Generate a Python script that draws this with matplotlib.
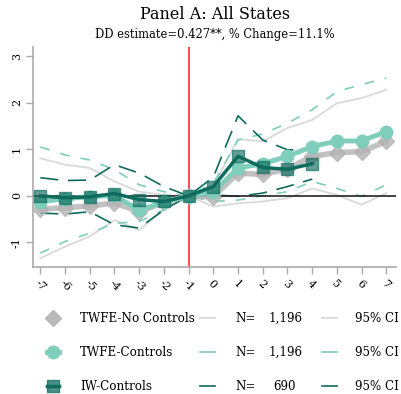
import matplotlib
matplotlib.use("Agg")
import matplotlib.pyplot as plt
import numpy as np

plt.rcParams['font.family'] = ['DejaVu Serif']
plt.rcParams['lines.scale_dashes'] = False

# ---- data ----
periods = [-7, -6, -5, -4, -3, -2, -1, 0, 1, 2, 3, 4, 5, 6, 7]
periods_iw = [-7, -6, -5, -4, -3, -2, -1, 0, 1, 2, 3, 4]

nc_est = [-0.29, -0.25, -0.22, -0.15, -0.34, -0.14, 0.0, -0.02, 0.49, 0.46, 0.58, 0.85, 0.93, 0.95, 1.17]
nc_hi = [0.81, 0.67, 0.60, 0.31, 0.09, 0.02, 0.0, 0.20, 1.22, 1.17, 1.46, 1.63, 1.99, 2.10, 2.28]
nc_lo = [-1.34, -1.09, -0.87, -0.52, -0.73, -0.30, 0.0, -0.23, -0.16, -0.12, -0.05, 0.16, 0.02, -0.19, 0.06]

c_est = [-0.13, -0.06, -0.02, 0.01, -0.31, -0.13, 0.0, 0.08, 0.60, 0.69, 0.85, 1.06, 1.18, 1.18, 1.38]
c_hi = [1.05, 0.88, 0.77, 0.56, 0.24, 0.09, 0.0, 0.27, 1.20, 1.33, 1.56, 1.85, 2.24, 2.39, 2.53]
c_lo = [-1.23, -0.98, -0.80, -0.59, -0.55, -0.30, 0.0, -0.12, -0.09, 0.0, 0.09, 0.31, 0.16, -0.01, 0.24]

iw_est = [0.0, -0.04, -0.02, 0.05, -0.08, -0.12, 0.0, 0.20, 0.85, 0.61, 0.57, 0.69]
iw_hi = [0.39, 0.33, 0.34, 0.67, 0.49, 0.20, 0.0, 0.40, 1.72, 1.20, 0.99, 0.98]
iw_lo = [-0.37, -0.39, -0.34, -0.62, -0.69, -0.30, 0.0, 0.02, -0.01, 0.06, 0.20, 0.36]

yticks = [-1, 0, 1, 2, 3]
title = "Panel A: All States"
subtitle = "DD estimate=0.427**, % Change=11.1%"
leg_labels = ["TWFE-No Controls", "TWFE-Controls", "IW-Controls"]
leg_n = ["1,196", "1,196", "690"]

GRAY = '#b3b3b3'
GRAYCI = '#d9d9d9'
LT = '#7fcdbb'
DK = '#0e6b5d'

fig = plt.figure(figsize=(4.01, 3.94), dpi=100)
ax = fig.add_axes([0.082, 0.322, 0.906, 0.559])

# CIs
ax.plot(periods, nc_hi, color=GRAYCI, lw=1.3, zorder=1)
ax.plot(periods, nc_lo, color=GRAYCI, lw=1.3, zorder=1)
ax.plot(periods, c_hi, color=LT, lw=1.2, dashes=(7, 8), zorder=1)
ax.plot(periods, c_lo, color=LT, lw=1.2, dashes=(7, 8), zorder=1)
ax.plot(periods_iw, iw_hi, color=DK, lw=1.2, dashes=(13, 7), zorder=1)
ax.plot(periods_iw, iw_lo, color=DK, lw=1.2, dashes=(13, 7), zorder=1)

ax.axhline(0, color='#222222', lw=1.2, zorder=2)
ax.axvline(-1, color='#ff1a1a', lw=1.1, zorder=2)

ax.plot(periods, nc_est, color=GRAY, lw=4, alpha=0.8, marker='D', ms=8,
        mfc=GRAY, mec=GRAY, zorder=3)
ax.plot(periods, c_est, color=LT, lw=3.5, marker='o', ms=9,
        mfc=LT, mec=LT, zorder=4)
ax.plot(periods_iw, iw_est, color=DK, lw=2.5, zorder=5)
ax.plot(periods_iw, iw_est, ls='none', marker='s', ms=9, mfc=DK, mec=DK,
        alpha=0.65, zorder=6)

ax.set_xlim(-7.3, 7.4)
ax.set_ylim(-1.53, 3.2)
ax.set_xticks(periods)
ax.set_xticklabels([str(p) for p in periods], rotation=-45, ha='left', va='top',
                   rotation_mode='anchor', fontsize=8)
ax.set_yticks(yticks)
ax.set_yticklabels([str(t) for t in yticks], rotation=90, va='center', fontsize=8)
for s in ['top', 'right']:
    ax.spines[s].set_visible(False)
for s in ['left', 'bottom']:
    ax.spines[s].set_color('#aaaaaa')
    ax.spines[s].set_linewidth(1.2)
ax.tick_params(axis='both', color='#aaaaaa', length=5, width=1, pad=3)

fig.text(0.536, 0.962, title, ha='center', va='center', fontsize=11.5)
fig.text(0.536, 0.912, subtitle, ha='center', va='center', fontsize=8.3)

# legend
lax = fig.add_axes([0, 0, 1, 1], facecolor='none')
lax.set_xlim(0, 401)
lax.set_ylim(394, 0)
lax.axis('off')
rows = [318, 352, 386]
mk = [dict(marker='D', ms=8, mfc=GRAY, mec=GRAY, alpha=0.9),
      dict(marker='o', ms=9, mfc=LT, mec=LT),
      dict(marker='s', ms=9, mfc=DK, mec=DK, alpha=0.75)]
cl = [dict(color=GRAYCI, lw=1.3), dict(color=LT, lw=1.2), dict(color=DK, lw=1.2)]
leg_line = [dict(color=GRAY, lw=4, alpha=0.0), dict(color=LT, lw=3.5), dict(color=DK, lw=2.5)]
for i, y in enumerate(rows):
    lax.plot([47, 59], [y, y], **leg_line[i])
    lax.plot([53], [y], ls='none', **mk[i])
    lax.text(80, y, leg_labels[i], ha='left', va='center', fontsize=8.6)
    lax.plot([200, 215], [y, y], **cl[i])
    lax.text(235, y, "N=", ha='left', va='center', fontsize=8.6)
    lax.text(285, y, leg_n[i], ha='center', va='center', fontsize=8.6)
    lax.plot([322, 337], [y, y], **cl[i])
    lax.text(355, y, "95% CI", ha='left', va='center', fontsize=8.6)

fig.savefig('out.png', dpi=100)
